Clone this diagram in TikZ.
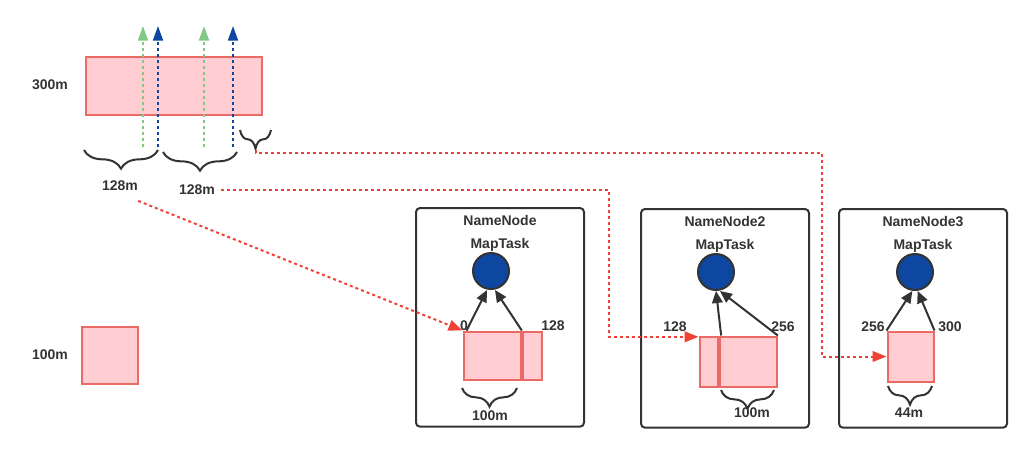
\documentclass[tikz,border=0pt]{standalone}
\usepackage{fontspec}
\setmainfont{Liberation Sans}
\usetikzlibrary{positioning,arrows.meta,decorations.pathreplacing}

\definecolor{blockfill}{RGB}{255,205,210}
\definecolor{blockline}{RGB}{234,107,102}
\definecolor{splitgreen}{RGB}{130,200,135}
\definecolor{splitblue}{RGB}{13,71,161}
\definecolor{linkred}{RGB}{240,65,55}
\definecolor{inkgray}{RGB}{51,51,51}

\tikzset{
  txt/.style={font=\fontsize{10.5}{12}\selectfont\bfseries, text=inkgray, inner sep=0pt, text height=8pt, text depth=2pt},
  block/.style={draw=blockline, fill=blockfill, line width=1.5pt, inner sep=0pt, anchor=north west},
  host/.style={draw=inkgray, line width=1.5pt, rounded corners=3pt, inner sep=0pt, anchor=north west,
    minimum width=126pt, minimum height=164pt},
  task/.style={circle, draw=inkgray, fill=splitblue, line width=1.5pt, minimum size=27pt, inner sep=0pt},
  feed/.style={draw=inkgray, line width=1.5pt, -{Triangle[length=9pt,width=8pt]}},
  link/.style={draw=linkred, line width=1.5pt, dash pattern=on 2.25pt off 2.25pt, -{Triangle[length=10.5pt,width=8pt]}},
  split/.style={line width=1.5pt, dash pattern=on 2.25pt off 2.25pt, -{Triangle[length=11pt,width=7.5pt]}},
  brc/.style={draw=inkgray, line width=1.5pt, decorate, decoration={brace, mirror, amplitude=14pt}},
}

\begin{document}
\begin{tikzpicture}[x=0.75pt, y=-0.75pt]
  \useasboundingbox (0,0) rectangle (1032,469);

  % the file and its splits
  \node[block, minimum width=132pt, minimum height=44pt] (file) at (84.5,55.5) {};
  \node[txt] (lfile) at (50,85) {300m};
  \foreach \x/\c in {143/splitgreen,158/splitblue,204/splitgreen,233/splitblue}
    \draw[split, \c] (\x,147) -- (\x,26);
  \draw[brc] (84,150) -- (158,150);
  \draw[brc] (163,152) -- (237,152);
  \draw[brc] (240,130) -- (271,130);
  \coordinate (tail3) at (255.5,150);
  \node[txt] (l128a) at (120,186) {128m};
  \node[txt] (l128b) at (197,190) {128m};

  \node[block, minimum width=42.5pt, minimum height=43pt] (file2) at (80.5,325.5) {};
  \node[txt] (lfile2) at (50,355) {100m};

  % first node
  \node[host] (host1) at (415,207) {};
  \node[txt] (name1) at ([yshift=-11pt]host1.north) {NameNode};
  \node[txt, below=6.5pt of name1] (job1) {MapTask};
  \node[task] (c1) at (491,271) {};
  \node[block, minimum width=43pt, minimum height=36.5pt] (n1a) at (462.5,330.5) {};
  \node[block, minimum width=14.5pt, minimum height=36.5pt] (n1b) at (n1a.north east) {};
  \node[txt] (o1a) at (464,326) {0};
  \node[txt] (o1b) at (553,326) {128};
  \draw[feed] ([xshift=3pt]n1a.north west) -- ([xshift=-3pt]c1.south);
  \draw[feed] (n1b.north west) -- ([xshift=3pt]c1.south);
  \draw[brc] (462,388) -- (517,388);
  \node[txt] (w1) at (490,416) {100m};

  % second node
  \node[host] (host2) at (640,208) {};
  \node[txt] (name2) at ([yshift=-11pt]host2.north) {NameNode2};
  \node[txt, below=6.5pt of name2] (job2) {MapTask};
  \node[task] (c2) at (716,272) {};
  \node[block, minimum width=13.5pt, minimum height=37.5pt] (n2a) at (698.5,335.5) {};
  \node[block, minimum width=43pt, minimum height=37.5pt] (n2b) at (n2a.north east) {};
  \node[txt] (o2a) at (675,327) {128};
  \node[txt] (o2b) at (783,327) {256};
  \draw[feed] ([xshift=2pt]n2b.north west) -- (c2.south);
  \draw[feed] (n2b.north east) -- ([xshift=3pt]c2.south);
  \draw[brc] (721,390) -- (774,390);
  \node[txt] (w2) at (752,413) {100m};

  % third node
  \node[host] (host3) at (838,208) {};
  \node[txt] (name3) at ([yshift=-11pt]host3.north) {NameNode3};
  \node[txt, below=6.5pt of name3] (job3) {MapTask};
  \node[task] (c3) at (915,272) {};
  \node[block, minimum width=34.5pt, minimum height=37.5pt] (n3a) at (886.5,330.5) {};
  \node[txt] (o3a) at (873,327) {256};
  \node[txt] (o3b) at (950,327) {300};
  \draw[feed] (n3a.north west) -- ([xshift=-2pt]c3.south);
  \draw[feed] (n3a.north east) -- ([xshift=2pt]c3.south);
  \draw[brc] (888,386) -- (932,386);
  \node[txt] (w3) at (909,413) {44m};

  % where each split goes
  \draw[link] ([yshift=-6pt]l128a.south east) -- (n1a.north west);
  \draw[link] ([xshift=4pt]l128b.east) -- ++(388,0) |- ([yshift=-1pt]n2a.north west);
  \draw[link] (tail3) |- (822,153) |- (n3a.west);
\end{tikzpicture}
\end{document}
